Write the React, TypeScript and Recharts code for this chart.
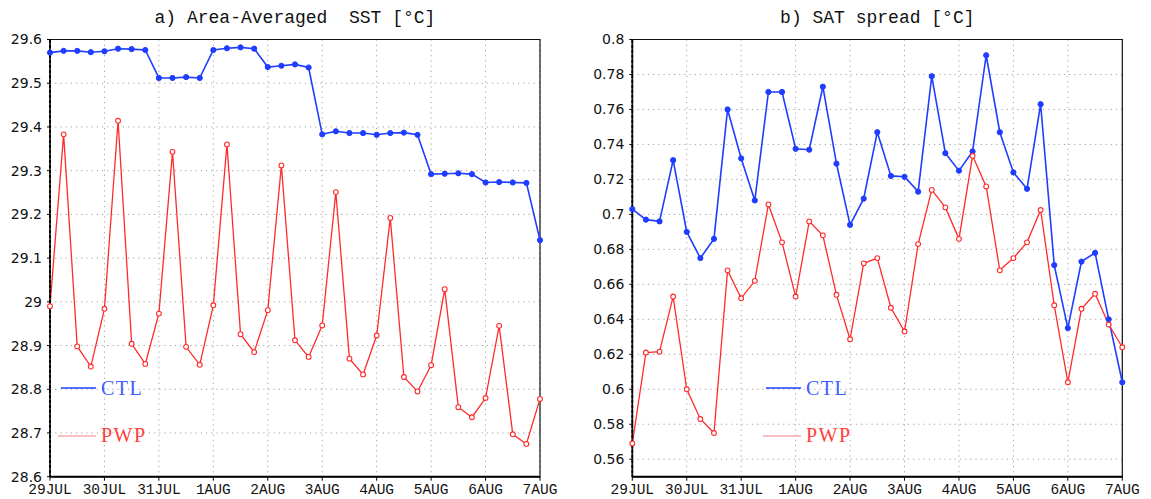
import { LineChart, Line, XAxis, YAxis, CartesianGrid, ReferenceArea } from "recharts";

// 6-hourly samples, 29JUL 00Z .. 7AUG 00Z (37 points)
const dayLabels = ["29JUL", "30JUL", "31JUL", "1AUG", "2AUG", "3AUG", "4AUG", "5AUG", "6AUG", "7AUG"];

const sstCtl = [
  29.570, 29.574, 29.574, 29.571, 29.573, 29.579, 29.578, 29.576,
  29.512, 29.512, 29.514, 29.512, 29.576, 29.580, 29.582, 29.579,
  29.537, 29.540, 29.543, 29.536, 29.383, 29.390, 29.386, 29.386,
  29.382, 29.386, 29.387, 29.382, 29.292, 29.293, 29.294, 29.292,
  29.273, 29.274, 29.273, 29.272, 29.141,
];
const sstPwp = [
  28.990, 29.383, 28.898, 28.852, 28.984, 29.414, 28.904, 28.858,
  28.973, 29.343, 28.897, 28.856, 28.992, 29.360, 28.926, 28.885,
  28.981, 29.312, 28.912, 28.874, 28.946, 29.251, 28.870, 28.834,
  28.923, 29.192, 28.828, 28.795, 28.855, 29.029, 28.759, 28.736,
  28.780, 28.945, 28.697, 28.675, 28.778,
];

const satCtl = [
  0.703, 0.697, 0.696, 0.731, 0.690, 0.675, 0.686, 0.760,
  0.732, 0.708, 0.770, 0.770, 0.7375, 0.737, 0.773, 0.729,
  0.694, 0.709, 0.747, 0.722, 0.7215, 0.713, 0.779, 0.735,
  0.725, 0.736, 0.791, 0.747, 0.724, 0.7146, 0.763, 0.671,
  0.635, 0.673, 0.678, 0.640, 0.604,
];
const satPwp = [
  0.569, 0.621, 0.6215, 0.653, 0.600, 0.583, 0.575, 0.668,
  0.652, 0.662, 0.7057, 0.684, 0.653, 0.696, 0.688, 0.654,
  0.6286, 0.672, 0.675, 0.6466, 0.633, 0.683, 0.714, 0.704,
  0.686, 0.7335, 0.716, 0.668, 0.675, 0.684, 0.7025, 0.648,
  0.604, 0.646, 0.6546, 0.637, 0.624,
];

const sstTicks = [28.6, 28.7, 28.8, 28.9, 29, 29.1, 29.2, 29.3, 29.4, 29.5, 29.6];
const satTicks = [0.56, 0.58, 0.6, 0.62, 0.64, 0.66, 0.68, 0.7, 0.72, 0.74, 0.76, 0.78, 0.8];
const dayTicks = dayLabels.map((_, i) => i);

const BLUE = "#1f3dff";
const RED = "#ff2a2a";

function build(ctl: number[], pwp: number[]) {
  return ctl.map((v, i) => ({ t: i / 4, CTL: v, PWP: pwp[i] }));
}

const tickFont = { fontFamily: "DejaVu Sans", fontSize: 14, fill: "#111" };
const xTickFont = { fontFamily: "Liberation Mono", fontSize: 14.5, fill: "#111" };

function LegendBox() {
  return (
    <svg width={150} height={80} style={{ display: "block" }}>
      <line x1={3} x2={38} y1={12} y2={12} stroke={BLUE} strokeWidth={1.5} />
      <text x={43} y={19} fill="#3f5cff" fontFamily="Liberation Serif" fontSize={20} letterSpacing={1.5}>CTL</text>
      <line x1={0} x2={38} y1={60} y2={60} stroke="#f7aaaa" strokeWidth={1.5} />
      <text x={43} y={66} fill="#ff3d3d" fontFamily="Liberation Serif" fontSize={20} letterSpacing={1.5}>PWP</text>
    </svg>
  );
}

function Panel({
  title, data, domain, ticks, yWidth, width, right, fmt, legendLeft,
}: {
  title: string; data: { t: number; CTL: number; PWP: number }[]; domain: [number, number];
  ticks: number[]; yWidth: number; width: number; right: number; fmt: (v: number) => string; legendLeft: number;
}) {
  return (
    <div style={{ position: "relative", width, height: 499 }}>
      <div style={{
        position: "absolute", left: yWidth, width: width - yWidth - right, top: 8, textAlign: "center",
        fontFamily: "Liberation Mono", fontSize: 18, color: "#111", whiteSpace: "pre",
      }}>{title}</div>
      <LineChart width={width} height={499} data={data} margin={{ top: 39.5, right, bottom: 2, left: 0 }}>
        <CartesianGrid stroke="#a0a0a0" strokeDasharray="1.2 4" />
        <XAxis
          dataKey="t" type="number" domain={[0, 9]} ticks={dayTicks} height={20.3}
          tickFormatter={(v: number) => dayLabels[v]} tick={xTickFont}
          axisLine={{ stroke: "#000", strokeWidth: 2 }} tickLine={{ stroke: "#000" }} tickSize={4} tickMargin={3}
          interval={0}
        />
        <YAxis
          type="number" domain={domain} ticks={ticks} width={yWidth} tickFormatter={fmt}
          tick={tickFont} axisLine={{ stroke: "#000", strokeWidth: 2, strokeDasharray: "4 1" }}
          tickLine={{ stroke: "#000" }} tickSize={3} tickMargin={5} interval={0}
          allowDataOverflow
        />
        <ReferenceArea x1={0} x2={9} y1={domain[0]} y2={domain[1]} fill="none" stroke="#111" strokeWidth={1.2} />
        <Line
          dataKey="CTL" stroke={BLUE} strokeWidth={1.6} isAnimationActive={false}
          dot={{ r: 2.6, fill: BLUE, stroke: BLUE, strokeWidth: 1 }}
        />
        <Line
          dataKey="PWP" stroke={RED} strokeWidth={1.3} isAnimationActive={false}
          dot={{ r: 2.4, fill: "#fff", stroke: RED, strokeWidth: 1.1 }}
        />
      </LineChart>
      <div style={{ position: "absolute", left: legendLeft, top: 376 }}>
        <LegendBox />
      </div>
    </div>
  );
}

export default function App() {
  return (
    <div style={{ position: "absolute", left: 0, top: 0, width: 1151, height: 499, background: "#fff", display: "flex" }}>
      <Panel
        title="a) Area-Averaged  SST [°C]" data={build(sstCtl, sstPwp)} domain={[28.6, 29.6]}
        ticks={sstTicks} yWidth={50} width={575} right={35}
        fmt={(v) => String(Number(v.toFixed(1)))} legendLeft={58}
      />
      <Panel
        title="b) SAT spread [°C]" data={build(satCtl, satPwp)} domain={[0.55, 0.8]}
        ticks={satTicks} yWidth={57.3} width={576} right={28.7}
        fmt={(v) => String(Number(v.toFixed(2)))} legendLeft={188}
      />
    </div>
  );
}
